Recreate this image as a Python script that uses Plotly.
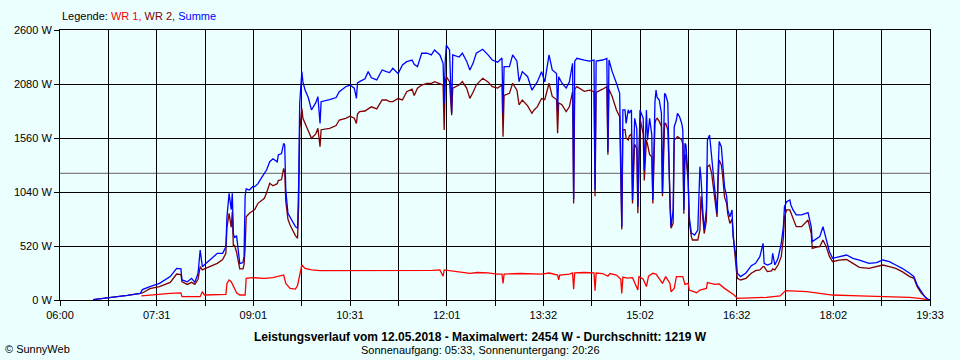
import pandas as pd
import plotly.graph_objects as go

DAY = "2018-05-12"

# ---------------- data ----------------
sm_times = [
    "06:31", "06:47", "07:03", "07:15", "07:17", "07:24", "07:33", "07:43", "07:49", "07:53",
    "07:54", "07:59", "08:03", "08:06", "08:09", "08:11", "08:13", "08:15", "08:20", "08:27",
    "08:32", "08:35", "08:36", "08:38", "08:40", "08:41", "08:42", "08:43", "08:45", "08:47",
    "08:48", "08:51", "08:52", "08:53", "08:54", "08:57", "09:00", "09:02", "09:05", "09:09",
    "09:11", "09:13", "09:16", "09:19", "09:23", "09:24", "09:27", "09:29", "09:30", "09:31",
    "09:33", "09:35", "09:38", "09:40", "09:42", "09:43", "09:44", "09:46", "09:47", "09:49",
    "09:52", "09:55", "09:59", "10:01", "10:03", "10:04", "10:12", "10:18", "10:21", "10:27",
    "10:31", "10:35", "10:37", "10:38", "10:40", "10:45", "10:48", "10:51", "10:56", "11:01",
    "11:05", "11:08", "11:11", "11:16", "11:20", "11:24", "11:29", "11:31", "11:34", "11:38",
    "11:43", "11:47", "11:50", "11:55", "11:58", "11:59", "12:00", "12:01", "12:04", "12:06",
    "12:07", "12:13", "12:16", "12:20", "12:23", "12:26", "12:29", "12:32", "12:35", "12:40",
    "12:44", "12:49", "12:53", "12:54", "12:55", "13:00", "13:03", "13:07", "13:09", "13:12",
    "13:17", "13:21", "13:23", "13:26", "13:30", "13:33", "13:37", "13:40", "13:44", "13:45",
    "13:46", "13:49", "13:53", "13:56", "13:59", "14:00", "14:01", "14:03", "14:10", "14:15",
    "14:19", "14:20", "14:21", "14:27", "14:31", "14:32", "14:33", "14:36", "14:40", "14:43",
    "14:45", "14:46", "14:48", "14:49", "14:51", "14:52", "14:54", "14:55", "14:57", "14:59",
    "15:00", "15:02", "15:05", "15:06", "15:08", "15:09", "15:11", "15:13", "15:14", "15:16",
    "15:17", "15:18", "15:20", "15:22", "15:23", "15:25", "15:26", "15:28", "15:30", "15:31",
    "15:33", "15:34", "15:36", "15:37", "15:39", "15:41", "15:42", "15:43", "15:44", "15:45",
    "15:47", "15:48", "15:50", "15:51", "15:53", "15:56", "15:58", "15:59", "16:01", "16:02",
    "16:04", "16:05", "16:07", "16:09", "16:10", "16:12", "16:14", "16:15", "16:16", "16:18",
    "16:19", "16:21", "16:23", "16:24", "16:26", "16:28", "16:29", "16:30", "16:32", "16:33",
    "16:36", "16:41", "16:46", "16:50", "16:54", "16:57", "16:58", "17:01", "17:05", "17:06",
    "17:08", "17:11", "17:14", "17:16", "17:17", "17:19", "17:22", "17:23", "17:25", "17:28",
    "17:33", "17:39", "17:42", "17:43", "17:47", "17:50", "17:53", "17:56", "17:59", "18:02",
    "18:08", "18:15", "18:21", "18:27", "18:36", "18:43", "18:49", "18:55", "19:01", "19:07",
    "19:14", "19:18", "19:21", "19:25", "19:28", "19:31", "19:33",
]

summe = [
    4, 22, 45, 64, 100, 128, 160, 225, 305, 300,
    193, 175, 209, 170, 257, 481, 321, 340, 385, 449,
    450, 513, 800, 1027, 870, 1027, 642, 600, 620, 385,
    350, 360, 420, 1000, 1070, 1059, 1091, 1091, 1120, 1188,
    1220, 1252, 1332, 1360, 1330, 1396, 1410, 1509, 1490, 1060,
    835, 800, 738, 706, 690, 1100, 1894, 2199, 2100, 2022,
    1950, 1830, 1900, 1958, 1701, 1910, 1930, 1950, 2006, 2054,
    2070, 2040, 1942, 2090, 2103, 2130, 2199, 2140, 2119, 2215,
    2200, 2190, 2231, 2180, 2263, 2295, 2310, 2270, 2247, 2376,
    2376, 2360, 2408, 2360, 2279, 1894, 2300, 2454, 2408, 1800,
    2360, 2340, 2376, 2300, 2215, 2279, 2376, 2392, 2414, 2360,
    2311, 2290, 2330, 1798, 2247, 2247, 2360, 2300, 2103, 2199,
    2150, 2022, 2054, 2100, 2199, 2100, 2360, 2215, 2180, 1814,
    2150, 2090, 2040, 2100, 2279, 970, 2300, 2327, 2310, 2300,
    2311, 1059, 2300, 2311, 2327, 1428, 2311, 2199, 2087, 1990,
    706, 1830, 1830, 1700, 1830, 1800, 1830, 963, 1750, 1650,
    899, 1830, 1750, 1250, 1830, 1540, 1750, 1590, 963, 1910,
    2022, 1950, 1926, 1800, 1027, 1990, 1975, 1900, 900, 706,
    867, 1669, 1733, 1798, 1765, 1700, 1640, 867, 1509, 1490,
    1156, 802, 642, 640, 626, 674, 1284, 1180, 800, 680,
    867, 1541, 1589, 1380, 1284, 1090, 835, 1250, 1525, 1477,
    1348, 1090, 995, 867, 800, 867, 610, 540, 385, 257,
    225, 260, 330, 353, 417, 546, 353, 337, 353, 449,
    337, 401, 546, 706, 899, 947, 963, 915, 867, 819,
    819, 841, 706, 562, 594, 610, 706, 578, 465, 401,
    417, 433, 401, 385, 353, 360, 385, 369, 337, 305,
    257, 225, 144, 80, 32, 6, 0,
]

wr2 = [
    4, 22, 45, 64, 68, 110, 128, 170, 250, 245,
    176, 150, 170, 150, 200, 321, 290, 300, 321, 353,
    390, 449, 700, 835, 700, 850, 513, 530, 460, 353,
    300, 300, 340, 500, 802, 835, 860, 870, 931, 960,
    979, 1030, 1124, 1100, 1120, 1150, 1160, 1268, 1230, 950,
    780, 722, 660, 620, 594, 900, 1637, 1846, 1750, 1701,
    1621, 1557, 1600, 1653, 1477, 1640, 1653, 1680, 1733, 1750,
    1770, 1750, 1700, 1790, 1814, 1820, 1840, 1860, 1840, 1926,
    1926, 1910, 1910, 1940, 1926, 2006, 2030, 1970, 2040, 2070,
    2085, 2085, 2103, 2085, 2070, 1637, 2100, 2151, 2103, 1780,
    2040, 2070, 2103, 2040, 1942, 2000, 2070, 2103, 2135, 2100,
    2054, 2040, 2070, 1573, 1970, 1990, 2087, 2020, 1878, 1926,
    1870, 1798, 1830, 1860, 1940, 1930, 2087, 1960, 1930, 1605,
    1900, 1880, 1814, 1860, 2006, 930, 2030, 2054, 2010, 2020,
    2006, 1000, 2000, 2030, 2054, 1400, 2030, 1960, 1830, 1765,
    680, 1640, 1640, 1560, 1540, 1580, 1600, 930, 1500, 1460,
    835, 1750, 1600, 1150, 1540, 1500, 1400, 1380, 930, 1700,
    1740, 1750, 1720, 1670, 1000, 1700, 1700, 1640, 840, 690,
    740, 1540, 1560, 1573, 1560, 1540, 1500, 830, 1400, 1380,
    1150, 760, 610, 578, 578, 578, 674, 1000, 760, 640,
    760, 1284, 1300, 1220, 1130, 963, 800, 1150, 1348, 1300,
    1220, 990, 930, 830, 738, 780, 600, 520, 289, 209,
    193, 209, 257, 283, 289, 321, 321, 273, 280, 300,
    290, 337, 417, 600, 800, 867, 867, 840, 787, 706,
    706, 770, 640, 498, 510, 514, 578, 514, 420, 369,
    385, 390, 353, 315, 305, 320, 337, 321, 305, 273,
    225, 209, 128, 64, 32, 6, 0,
]

wr1_times = [
    "07:16", "07:24", "07:33", "07:43", "07:53", "07:54", "08:11", "08:13", "08:15", "08:35",
    "08:36", "08:38", "08:40", "08:43", "08:45", "08:48", "08:53", "08:54", "09:00", "09:11",
    "09:19", "09:29", "09:31", "09:35", "09:40", "09:42", "09:44", "09:46", "09:49", "09:55",
    "10:03", "10:20", "10:35", "10:50", "11:05", "11:20", "11:35", "11:48", "11:55", "11:58",
    "11:59", "12:05", "12:15", "12:23", "12:30", "12:40", "12:48", "12:53", "12:54", "12:55",
    "13:10", "13:30", "13:37", "13:45", "13:46", "13:47", "13:56", "13:59", "14:00", "14:01",
    "14:10", "14:19", "14:20", "14:21", "14:27", "14:32", "14:34", "14:40", "14:44", "14:45",
    "14:46", "14:50", "14:55", "15:00", "15:01", "15:05", "15:08", "15:10", "15:14", "15:17",
    "15:23", "15:26", "15:30", "15:31", "15:34", "15:36", "15:42", "15:44", "15:47", "15:48",
    "15:55", "15:58", "16:04", "16:05", "16:12", "16:16", "16:21", "16:26", "16:30", "16:33",
    "16:44", "17:00", "17:13", "17:18", "17:38", "18:02", "18:27", "18:58", "19:14", "19:23",
    "19:33",
]

wr1 = [
    40, 48, 55, 64, 68, 32, 32, 80, 48, 55,
    160, 193, 176, 120, 70, 48, 48, 209, 215, 209,
    215, 241, 160, 112, 105, 140, 250, 337, 305, 290,
    282, 282, 285, 282, 285, 282, 280, 285, 290, 230,
    290, 280, 265, 257, 265, 262, 250, 250, 160, 250,
    255, 250, 260, 240, 193, 240, 250, 260, 103, 262,
    265, 262, 90, 260, 255, 230, 255, 240, 200, 64,
    220, 210, 215, 96, 225, 200, 130, 230, 257, 250,
    160, 225, 160, 80, 112, 225, 225, 150, 160, 96,
    70, 96, 112, 167, 150, 155, 112, 80, 48, 16,
    22, 25, 40, 90, 80, 48, 40, 32, 25, 16,
    0,
]

average = 1219
y_ticks = [0, 520, 1040, 1560, 2080, 2600]
x_tick_labels = ["06:00", "07:31", "09:01", "10:31", "12:01",
                 "13:32", "15:02", "16:32", "18:02", "19:33"]

assert len(sm_times) == len(summe) == len(wr2), (len(sm_times), len(summe), len(wr2))
assert len(wr1_times) == len(wr1), (len(wr1_times), len(wr1))

# ---------------- figure ----------------
def ts(lst):
    return pd.to_datetime([f"{DAY} {h}" for h in lst])

start = pd.Timestamp(f"{DAY} {x_tick_labels[0]}")
end = pd.Timestamp(f"{DAY} {x_tick_labels[-1]}")
n_int = 2 * (len(x_tick_labels) - 1)
step = (end - start) / n_int
x_tickvals = [start + k * step for k in range(n_int + 1)]
x_ticktext = [x_tick_labels[k // 2] if k % 2 == 0 else "" for k in range(n_int + 1)]

BG = "#EBFFFF"
FONT = "Liberation Sans, Arial, sans-serif"

fig = go.Figure()
fig.add_trace(go.Scatter(x=ts(wr1_times), y=wr1, mode="lines", name="WR 1",
                         line=dict(color="#FF0000", width=1.3)))
fig.add_trace(go.Scatter(x=ts(sm_times), y=wr2, mode="lines", name="WR 2",
                         line=dict(color="#800000", width=1.3)))
fig.add_trace(go.Scatter(x=ts(sm_times), y=summe, mode="lines", name="Summe",
                         line=dict(color="#0000FF", width=1.3)))

fig.add_shape(type="line", xref="paper", x0=0, x1=1, yref="y", y0=average, y1=average,
              line=dict(color="#808080", width=1.2), layer="below")

axis_common = dict(showgrid=True, gridcolor="black", gridwidth=1,
                   showline=True, linecolor="black", linewidth=1, mirror=True,
                   ticks="outside", ticklen=5, tickcolor="black", tickwidth=1,
                   zeroline=False, tickfont=dict(family=FONT, size=11, color="black"))

fig.update_xaxes(type="date", range=[start, end], tickmode="array",
                 tickvals=x_tickvals, ticktext=x_ticktext, **axis_common)
fig.update_yaxes(range=[0, 2600], tickmode="array", tickvals=y_ticks,
                 ticktext=[f"{v} W" for v in y_ticks], **axis_common)

def px2paper(px, py):
    return (px - 60) / 870.0, (300 - py) / 270.0

ann = []
lx, ly = px2paper(60, 16)
ann.append(dict(x=lx, y=ly, xref="paper", yref="paper", xanchor="left", yanchor="middle",
                showarrow=False, font=dict(family=FONT, size=11, color="black"),
                text="Legende: <span style='color:#FF0000'>WR 1,</span> "
                     "<span style='color:#800000'>WR 2,</span> "
                     "<span style='color:#0000FF'>Summe</span>"))
tx, ty = px2paper(480, 337)
ann.append(dict(x=tx, y=ty, xref="paper", yref="paper", xanchor="center", yanchor="middle",
                showarrow=False, font=dict(family=FONT, size=12, color="black"),
                text=f"<b>Leistungsverlauf vom 12.05.2018 - Maximalwert: {max(summe)} W - "
                     f"Durchschnitt: {average} W</b>"))
sx, sy = px2paper(480, 349.5)
ann.append(dict(x=sx, y=sy, xref="paper", yref="paper", xanchor="center", yanchor="middle",
                showarrow=False, font=dict(family=FONT, size=11, color="black"),
                text="Sonnenaufgang: 05:33, Sonnenuntergang: 20:26"))
cx, cy = px2paper(3, 349)
ann.append(dict(x=cx, y=cy, xref="paper", yref="paper", xanchor="left", yanchor="middle",
                showarrow=False, font=dict(family=FONT, size=11, color="black"),
                text="© SunnyWeb"))

fig.update_layout(width=960, height=360, margin=dict(l=60, r=30, t=30, b=60),
                  paper_bgcolor=BG, plot_bgcolor=BG, showlegend=False,
                  annotations=ann, font=dict(family=FONT, size=11, color="black"))

fig.write_html("out.html", config={"displayModeBar": False},
               post_script=f"document.body.style.margin='0';"
                           f"document.body.style.background='{BG}';"
                           f"document.body.style.overflow='hidden';")
